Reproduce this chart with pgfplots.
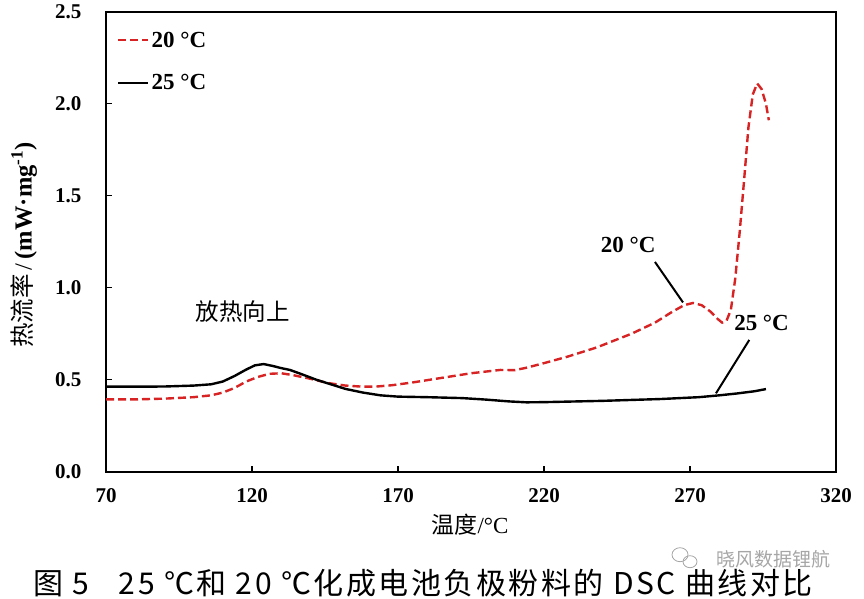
\documentclass[border=0pt]{standalone}
\usepackage{pgfplots}
\pgfplotsset{compat=1.18}
\usepackage{fontspec}
\setmainfont{Liberation Serif}
\newfontfamily\cjk{Noto Sans CJK SC}
\newfontfamily\cjkcap[LetterSpace=8.5]{Noto Sans CJK SC}
\definecolor{dscred}{RGB}{215,35,35}
\begin{document}
\begin{tikzpicture}[x=1pt,y=1pt]
\path[use as bounding box] (-106,-127.3) rectangle (758,471.7);
\begin{axis}[
  at={(0,0)}, anchor=south west,
  scale only axis, width=730pt, height=460pt,
  xmin=70, xmax=320, ymin=0, ymax=2.5,
  xtick={70,120,170,220,270,320},
  ytick={0,0.5,1.0,1.5,2.0,2.5},
  xtick pos=left, ytick pos=left,
  tick align=inside, major tick length=6pt,
  axis line style={line width=2pt},
  every tick/.style={black, line width=1.5pt},
  /pgf/number format/assume math mode=true,
  ticklabel style={font=\fontsize{21}{21}\selectfont\bfseries},
  yticklabel style={/pgf/number format/fixed, /pgf/number format/fixed zerofill, /pgf/number format/precision=1, xshift=-21pt},
  xticklabel style={yshift=-13pt},
  legend cell align=left,
  legend style={draw=none, fill=none, at={(0,1)}, anchor=north west,
    xshift=8pt, yshift=-16pt,
    font=\fontsize{23}{23}\selectfont\bfseries,
    row sep=22pt},
  legend image code/.code={\draw[#1] (0pt,0pt) -- (30pt,0pt);},
]
\addplot[dscred, line width=2.4pt, dash pattern=on 8pt off 4pt] coordinates {
(70,0.393) (80,0.393) (90,0.397) (100,0.405) (106,0.415) (110,0.43) (114,0.455)
(118,0.49) (122,0.515) (126,0.532) (130,0.535) (134,0.525) (140,0.505)
(146,0.482) (152,0.468) (158,0.462) (162,0.462) (168,0.47) (175,0.485)
(185,0.51) (195,0.535) (205,0.553) (210,0.552) (214,0.565) (220,0.59)
(228,0.625) (238,0.675) (250,0.75) (258,0.81) (264,0.87) (268,0.905)
(271,0.917) (274,0.905) (277,0.87) (279.5,0.83) (281,0.81) (282.5,0.82)
(284,0.88) (285.5,1.05) (287,1.3) (288.5,1.58) (290,1.87) (291.5,2.05)
(293,2.11) (294.5,2.08) (296,2.0) (297,1.91)
};
\addlegendentry{20 °C}
\addplot[black, line width=2.4pt] coordinates {
(70,0.462) (80,0.462) (90,0.463) (100,0.468) (106,0.475) (110,0.49) (114,0.52)
(118,0.555) (121,0.578) (124,0.585) (127,0.575) (130,0.563) (133,0.553)
(137,0.53) (142,0.5) (148,0.47) (152,0.45) (158,0.43) (164,0.415) (170,0.408)
(180,0.405) (192,0.4) (200,0.392) (208,0.382) (214,0.377) (220,0.378)
(240,0.385) (260,0.395) (273,0.405) (280,0.415) (286,0.425) (292,0.437) (296,0.449)
};
\addlegendentry{25 °C}
\draw[black, line width=2pt] (axis cs:258,1.14) -- (axis cs:267.6,0.92);
\draw[black, line width=2pt] (axis cs:290.3,0.716) -- (axis cs:278.9,0.426);
\node[font=\fontsize{23}{23}\selectfont\bfseries] at (axis cs:248.8,1.23) {20 °C};
\node[font=\fontsize{23}{23}\selectfont\bfseries] at (axis cs:294.5,0.81) {25 °C};
\node[font=\cjk\fontsize{23.5}{23.5}\selectfont] at (axis cs:116.9,0.868) {放热向上};
\end{axis}
\node[font=\fontsize{23}{23}\selectfont] at (364,-53) {{\cjk 温度}/°C};
\node[rotate=90, font=\fontsize{24.5}{24.5}\selectfont] at (-82,226.7) {{\cjk 热流率}\,/\,\textbf{(mW·mg\textsuperscript{-1})}};
\node[font=\cjkcap\fontsize{30}{30}\selectfont] at (317,-111.3) {图 5\quad 25 ℃和 20 ℃化成电池负极粉料的 DSC 曲线对比};
\node[font=\cjk\fontsize{19}{19}\selectfont, text=black!35] at (667,-87.3) {晓风数据锂航};
\draw[black!35, line width=0.8pt] (574,-83) circle[x radius=8, y radius=7];
\draw[black!35, line width=0.8pt] (584,-90) circle[x radius=7, y radius=6];
\end{tikzpicture}
\end{document}
